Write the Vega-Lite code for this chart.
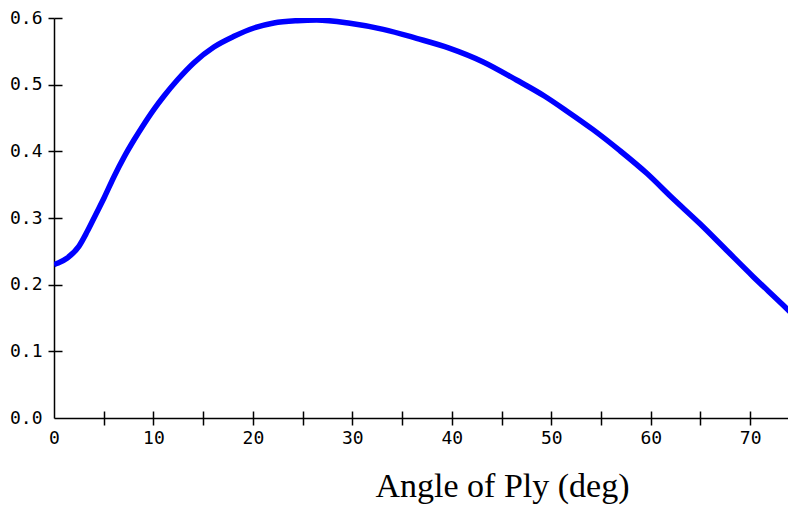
{
  "$schema": "https://vega.github.io/schema/vega-lite/v6.json",
  "width": 734,
  "height": 400,
  "autosize": {"type": "none"},
  "padding": {"left": 54, "top": 18, "right": 0, "bottom": 94},
  "background": "white",
  "config": {"view": {"stroke": null}},
  "data": {"values": [
    {"angle": 0, "val": 0.230},
    {"angle": 0.33, "val": 0.232},
    {"angle": 1.34, "val": 0.240},
    {"angle": 2.5, "val": 0.2575},
    {"angle": 3.35, "val": 0.280},
    {"angle": 4.19, "val": 0.305},
    {"angle": 5.03, "val": 0.330},
    {"angle": 6.03, "val": 0.362},
    {"angle": 7.03, "val": 0.391},
    {"angle": 8.04, "val": 0.417},
    {"angle": 8.88, "val": 0.437},
    {"angle": 10.05, "val": 0.463},
    {"angle": 11.06, "val": 0.483},
    {"angle": 12.4, "val": 0.507},
    {"angle": 14.07, "val": 0.533},
    {"angle": 16.08, "val": 0.5565},
    {"angle": 18.1, "val": 0.5725},
    {"angle": 20.1, "val": 0.585},
    {"angle": 22.1, "val": 0.5925},
    {"angle": 24.45, "val": 0.596},
    {"angle": 26.4, "val": 0.597},
    {"angle": 29.75, "val": 0.592},
    {"angle": 33.1, "val": 0.583},
    {"angle": 36.45, "val": 0.5695},
    {"angle": 39.8, "val": 0.5545},
    {"angle": 43.1, "val": 0.5345},
    {"angle": 46.5, "val": 0.507},
    {"angle": 49.3, "val": 0.483},
    {"angle": 51.5, "val": 0.461},
    {"angle": 54.2, "val": 0.4325},
    {"angle": 56.9, "val": 0.401},
    {"angle": 59.6, "val": 0.367},
    {"angle": 62.2, "val": 0.3295},
    {"angle": 64.9, "val": 0.292},
    {"angle": 67.6, "val": 0.252},
    {"angle": 70.3, "val": 0.212},
    {"angle": 73.3, "val": 0.1695},
    {"angle": 74.5, "val": 0.152}
  ]},
  "layer": [
    {
      "mark": {"type": "line", "color": "#0000ff", "strokeWidth": 5.5, "clip": true, "interpolate": "monotone"},
      "encoding": {
        "x": {
          "field": "angle", "type": "quantitative",
          "scale": {"domain": [0, 73.8], "nice": false, "zero": false},
          "axis": {
            "values": [0, 5, 10, 15, 20, 25, 30, 35, 40, 45, 50, 55, 60, 65, 70],
            "labelExpr": "datum.value % 10 == 0 ? format(datum.value, 'd') : ''",
            "grid": false,
            "domainColor": "#000000", "domainWidth": 1.5,
            "tickColor": "#000000", "tickWidth": 1.5, "tickSize": 7,
            "tickOpacity": {"condition": {"test": "datum.value == 0", "value": 0}, "value": 1},
            "labelFont": "DejaVu Sans Mono", "labelFontSize": 18, "labelColor": "#000000",
            "labelPadding": 4, "labelBaseline": "top", "labelFlush": false, "labelOverlap": false,
            "title": "Angle of Ply (deg)",
            "titleFont": "Liberation Serif", "titleFontSize": 34, "titleFontWeight": "normal",
            "titleColor": "#000000", "titleX": 448, "titleY": 78, "titleBaseline": "alphabetic", "titleAlign": "center"
          }
        },
        "y": {
          "field": "val", "type": "quantitative",
          "scale": {"domain": [0, 0.6], "nice": false},
          "axis": {
            "values": [0, 0.1, 0.2, 0.3, 0.4, 0.5, 0.6],
            "format": ".1f",
            "grid": false,
            "domainColor": "#000000", "domainWidth": 1.5,
            "tickColor": "#000000", "tickWidth": 1.5, "tickSize": 6,
            "tickOpacity": {"condition": {"test": "datum.value == 0", "value": 0}, "value": 1},
            "labelFont": "DejaVu Sans Mono", "labelFontSize": 18, "labelColor": "#000000",
            "labelPadding": 6, "labelFlush": false, "labelOverlap": false,
            "title": null
          }
        }
      }
    },
    {
      "mark": {"type": "line", "opacity": 0},
      "encoding": {
        "x": {
          "field": "angle", "type": "quantitative",
          "axis": {
            "orient": "bottom",
            "values": [5, 10, 15, 20, 25, 30, 35, 40, 45, 50, 55, 60, 65, 70],
            "labels": false, "domain": false, "grid": false, "title": null,
            "tickColor": "#000000", "tickWidth": 1.5, "tickSize": -7
          }
        },
        "y": {
          "field": "val", "type": "quantitative",
          "axis": {
            "orient": "left",
            "values": [0.1, 0.2, 0.3, 0.4, 0.5, 0.6],
            "labels": false, "domain": false, "grid": false, "title": null,
            "tickColor": "#000000", "tickWidth": 1.5, "tickSize": -8
          }
        }
      }
    }
  ],
  "resolve": {"axis": {"x": "independent", "y": "independent"}}
}
